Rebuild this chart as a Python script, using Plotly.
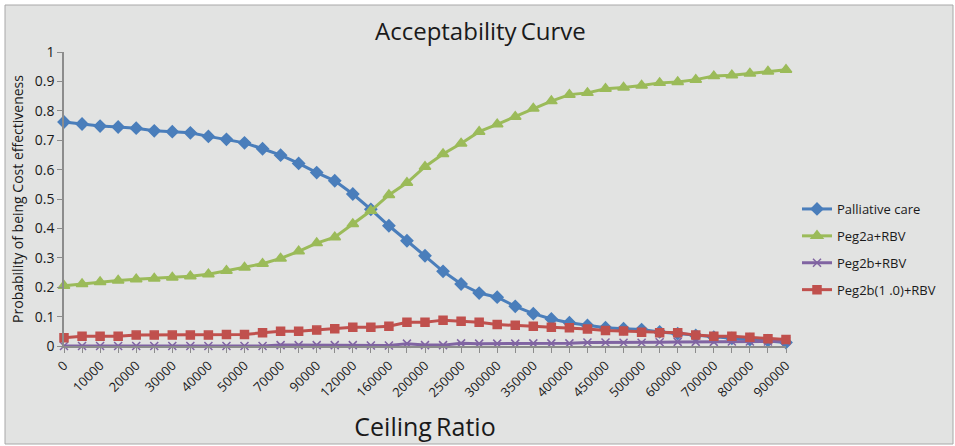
import plotly.graph_objects as go

ceiling = [0, 5000, 10000, 15000, 20000, 25000, 30000, 35000, 40000, 45000, 50000,
           60000, 70000, 80000, 90000, 100000, 120000, 140000, 160000, 180000, 200000,
           225000, 250000, 275000, 300000, 325000, 350000, 375000, 400000, 425000, 450000,
           475000, 500000, 550000, 600000, 650000, 700000, 750000, 800000, 850000, 900000]
categories = [str(c) for c in ceiling]
tick_labels = [c if i % 2 == 0 else "" for i, c in enumerate(categories)]

palliative = [0.762, 0.755, 0.748, 0.745, 0.741, 0.732, 0.729, 0.725, 0.713, 0.703, 0.691,
              0.671, 0.649, 0.621, 0.590, 0.562, 0.517, 0.465, 0.409, 0.358, 0.307,
              0.254, 0.211, 0.180, 0.166, 0.135, 0.110, 0.092, 0.079, 0.070, 0.062,
              0.059, 0.056, 0.048, 0.042, 0.036, 0.030, 0.026, 0.022, 0.018, 0.012]
peg2a = [0.205, 0.211, 0.218, 0.223, 0.227, 0.230, 0.233, 0.237, 0.244, 0.256, 0.267,
         0.280, 0.298, 0.322, 0.350, 0.370, 0.415, 0.460, 0.514, 0.555, 0.610,
         0.653, 0.689, 0.729, 0.754, 0.780, 0.808, 0.833, 0.855, 0.861, 0.875,
         0.879, 0.886, 0.895, 0.898, 0.906, 0.918, 0.921, 0.927, 0.934, 0.940]
peg2b = [0.000, 0.000, 0.000, 0.000, 0.000, 0.000, 0.000, 0.000, 0.000, 0.000, 0.000,
         0.000, 0.003, 0.003, 0.003, 0.003, 0.003, 0.002, 0.002, 0.008, 0.003,
         0.003, 0.009, 0.008, 0.008, 0.008, 0.009, 0.009, 0.009, 0.012, 0.012,
         0.011, 0.011, 0.013, 0.014, 0.014, 0.014, 0.015, 0.015, 0.015, 0.016]
peg2b_10 = [0.028, 0.033, 0.033, 0.033, 0.037, 0.037, 0.037, 0.037, 0.037, 0.039, 0.039,
            0.045, 0.050, 0.050, 0.054, 0.059, 0.064, 0.064, 0.067, 0.081, 0.081,
            0.088, 0.084, 0.081, 0.073, 0.071, 0.067, 0.064, 0.062, 0.058, 0.053,
            0.051, 0.047, 0.045, 0.045, 0.037, 0.033, 0.033, 0.030, 0.025, 0.022]

series = [
    ("Palliative care", palliative, "#4a7ebb", "diamond", 9),
    ("Peg2a+RBV", peg2a, "#9bbb59", "triangle-up", 10),
    ("Peg2b+RBV", peg2b, "#8064a2", "x-thin", 8),
    ("Peg2b(1 .0)+RBV", peg2b_10, "#c0504d", "square", 8),
]

FONT = "Open Sans"
fig = go.Figure()
for i, (name, vals, color, sym, size) in enumerate(series):
    fig.add_trace(go.Scatter(
        x=categories, y=vals, name=name, mode="lines+markers",
        legendgroup=f"g{i}",
        line=dict(color=color, width=3),
        marker=dict(symbol=sym, size=size, color=color,
                    line=dict(color=color, width=1.5)),
        cliponaxis=False,
    ))

L, R, T, B = 64, 169, 52, 100
pw = 955 - L - R
ph = 446 - T - B

fig.add_shape(type="rect", xref="paper", yref="paper", layer="below",
              x0=(5 - L) / pw, x1=(953 - L) / pw,
              y0=(446 - B - 444) / ph, y1=(446 - B - 5) / ph,
              fillcolor="#e2e3e2", line=dict(color="#a8a8a8", width=1))

fig.update_layout(
    width=955, height=446,
    margin=dict(l=L, r=R, t=T, b=B, pad=0, autoexpand=False),
    paper_bgcolor="white", plot_bgcolor="rgba(0,0,0,0)",
    font=dict(family=FONT, color="#1a1a1a"),
    title=dict(text="Acceptability\u2009Curve", x=0.503, xref="container", xanchor="center",
               y=1 - 32 / 446, yref="container", yanchor="middle",
               font=dict(size=24, family=FONT, color="#1a1a1a")),
    showlegend=True,
    legend=dict(x=(797 - L) / pw, xanchor="left", y=(346 - 194) / ph, yanchor="top",
                bgcolor="rgba(0,0,0,0)", font=dict(size=13, family=FONT),
                tracegroupgap=7, traceorder="grouped", itemwidth=30),
    xaxis=dict(
        type="category", range=[0, len(categories) - 1], automargin=False,
        tickmode="array", tickvals=categories, ticktext=tick_labels,
        tickangle=-45, ticks="outside", ticklen=5, tickcolor="#8c8c8c",
        showline=True, linecolor="#8c8c8c", linewidth=1.5, showgrid=False, zeroline=False,
        tickfont=dict(size=13, family=FONT),
        title=dict(text="Ceiling\u2009Ratio", font=dict(size=25, family=FONT), standoff=19),
    ),
    yaxis=dict(
        range=[0, 1], dtick=0.1, tick0=0, automargin=False,
        ticks="outside", ticklen=5, tickcolor="#8c8c8c",
        showline=True, linecolor="#8c8c8c", linewidth=1.5, showgrid=False, zeroline=False,
        tickfont=dict(size=14, family=FONT),
        title=dict(text="Probability of being Cost effectiveness", font=dict(size=14, family=FONT),
                   standoff=8),
    ),
)

fig.write_html("out.html", config={"displayModeBar": False},
               post_script="document.body.style.margin='0';document.body.style.overflow='hidden';")
